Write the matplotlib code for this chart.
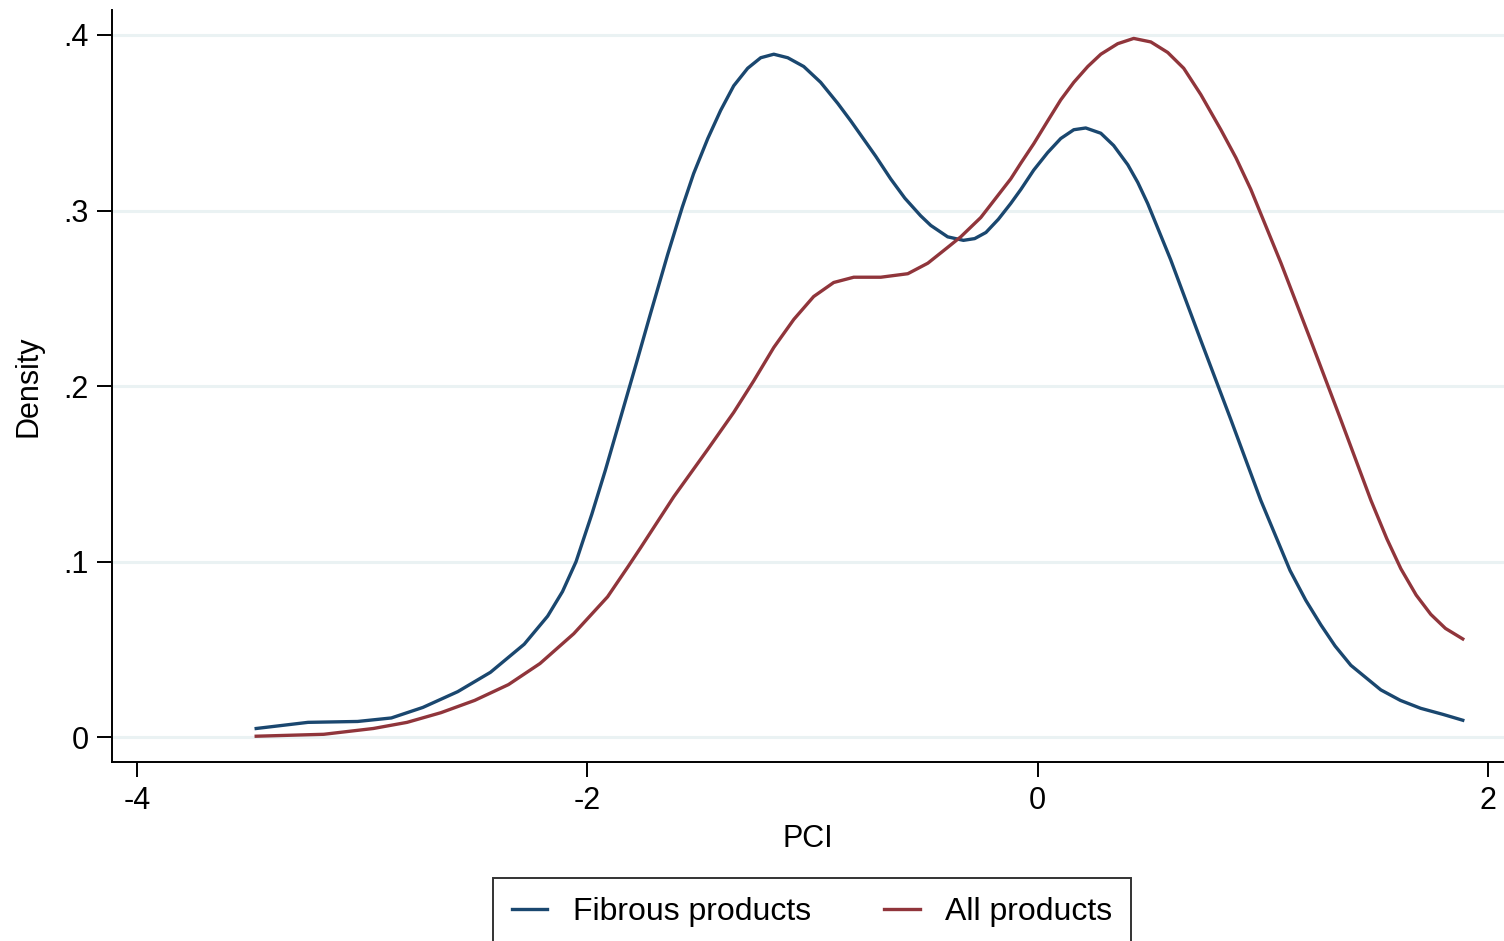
import numpy as np
import matplotlib.pyplot as plt

plt.rcParams['font.family'] = ['Liberation Sans', 'DejaVu Sans']

# kernel density estimates
pci_fib = [-3.47, -3.24, -3.02, -2.87, -2.73, -2.575, -2.43, -2.28, -2.176, -2.11,
           -2.05, -1.98, -1.92, -1.85, -1.78, -1.72, -1.643, -1.578, -1.528, -1.465,
           -1.408, -1.35, -1.288, -1.23, -1.172, -1.11, -1.039, -0.964, -0.888, -0.83,
           -0.786, -0.72, -0.653, -0.59, -0.52, -0.475, -0.40, -0.33, -0.28, -0.23,
           -0.175, -0.12, -0.075, -0.018, 0.044, 0.102, 0.160, 0.213, 0.280, 0.337,
           0.400, 0.444, 0.488, 0.59, 0.724, 0.857, 0.99, 1.12, 1.19, 1.257,
           1.32, 1.39, 1.523, 1.61, 1.70, 1.80, 1.887]
fibrous = [0.005, 0.0085, 0.009, 0.011, 0.017, 0.026, 0.037, 0.053, 0.069, 0.083,
           0.100, 0.127, 0.152, 0.183, 0.214, 0.241, 0.275, 0.302, 0.321, 0.341,
           0.357, 0.371, 0.381, 0.387, 0.389, 0.387, 0.382, 0.373, 0.361, 0.351,
           0.343, 0.331, 0.318, 0.307, 0.297, 0.2915, 0.285, 0.283, 0.284, 0.2875,
           0.295, 0.304, 0.312, 0.323, 0.333, 0.341, 0.346, 0.347, 0.344, 0.337,
           0.326, 0.316, 0.304, 0.272, 0.226, 0.181, 0.135, 0.095, 0.078, 0.064,
           0.052, 0.041, 0.027, 0.021, 0.0165, 0.013, 0.0097]

pci_all = [-3.47, -3.17, -2.95, -2.80, -2.65, -2.50, -2.35, -2.21, -2.06, -1.91,
           -1.82, -1.763, -1.616, -1.465, -1.35, -1.261, -1.172, -1.083, -0.995, -0.906,
           -0.817, -0.697, -0.577, -0.488, -0.40, -0.342, -0.253, -0.12, -0.075, -0.018,
           0.044, 0.102, 0.160, 0.222, 0.280, 0.355, 0.426, 0.502, 0.577, 0.648,
           0.724, 0.813, 0.88, 0.946, 1.08, 1.212, 1.345, 1.479, 1.55, 1.612,
           1.68, 1.745, 1.81, 1.887]
all_prod = [0.0006, 0.0017, 0.005, 0.0085, 0.014, 0.021, 0.030, 0.042, 0.059, 0.080,
            0.097, 0.108, 0.137, 0.164, 0.185, 0.203, 0.222, 0.238, 0.251, 0.259,
            0.262, 0.262, 0.264, 0.270, 0.279, 0.285, 0.296, 0.318, 0.327, 0.338,
            0.351, 0.363, 0.373, 0.382, 0.389, 0.395, 0.398, 0.396, 0.390, 0.381,
            0.366, 0.346, 0.330, 0.312, 0.270, 0.226, 0.181, 0.135, 0.113, 0.096,
            0.081, 0.070, 0.062, 0.056]

xticks = [-4, -2, 0, 2]
yticks = [0, 0.1, 0.2, 0.3, 0.4]
ylabels = ['0', '.1', '.2', '.3', '.4']

fig = plt.figure(figsize=(15.04, 9.41), dpi=100)
ax = fig.add_axes([0.0745, 0.19, 0.9255, 0.7994])

for y in yticks:
    ax.axhline(y, color='#eaf2f3', lw=2.2, zorder=0)

ax.plot(pci_fib, fibrous, color='#1a476f', lw=2.4, label='Fibrous products')
ax.plot(pci_all, all_prod, color='#90353b', lw=2.4, label='All products')

ax.set_xlim(-4.11, 2.07)
ax.set_ylim(-0.0142, 0.4142)
ax.set_xticks(xticks)
ax.set_xticklabels(['-4', '-2', '0', '2'])
ax.set_yticks(yticks)
ax.set_yticklabels(ylabels)
ax.tick_params(labelsize=22, length=11, width=1.4, direction='out', pad=6)

for s in ['top', 'right']:
    ax.spines[s].set_visible(False)
for s in ['left', 'bottom']:
    ax.spines[s].set_linewidth(1.4)

ax.set_xlabel('PCI', fontsize=22, labelpad=6)
ax.set_ylabel('Density', fontsize=22, labelpad=14)

leg = fig.legend(loc='upper center', bbox_to_anchor=(0.54, 0.067), ncol=2,
                 fontsize=23, frameon=True, fancybox=False, edgecolor='black',
                 handlelength=1.1, handletextpad=0.8, columnspacing=2.3,
                 borderpad=0.6, borderaxespad=0)
leg.get_frame().set_linewidth(1.4)

fig.savefig('out.png', dpi=100)
